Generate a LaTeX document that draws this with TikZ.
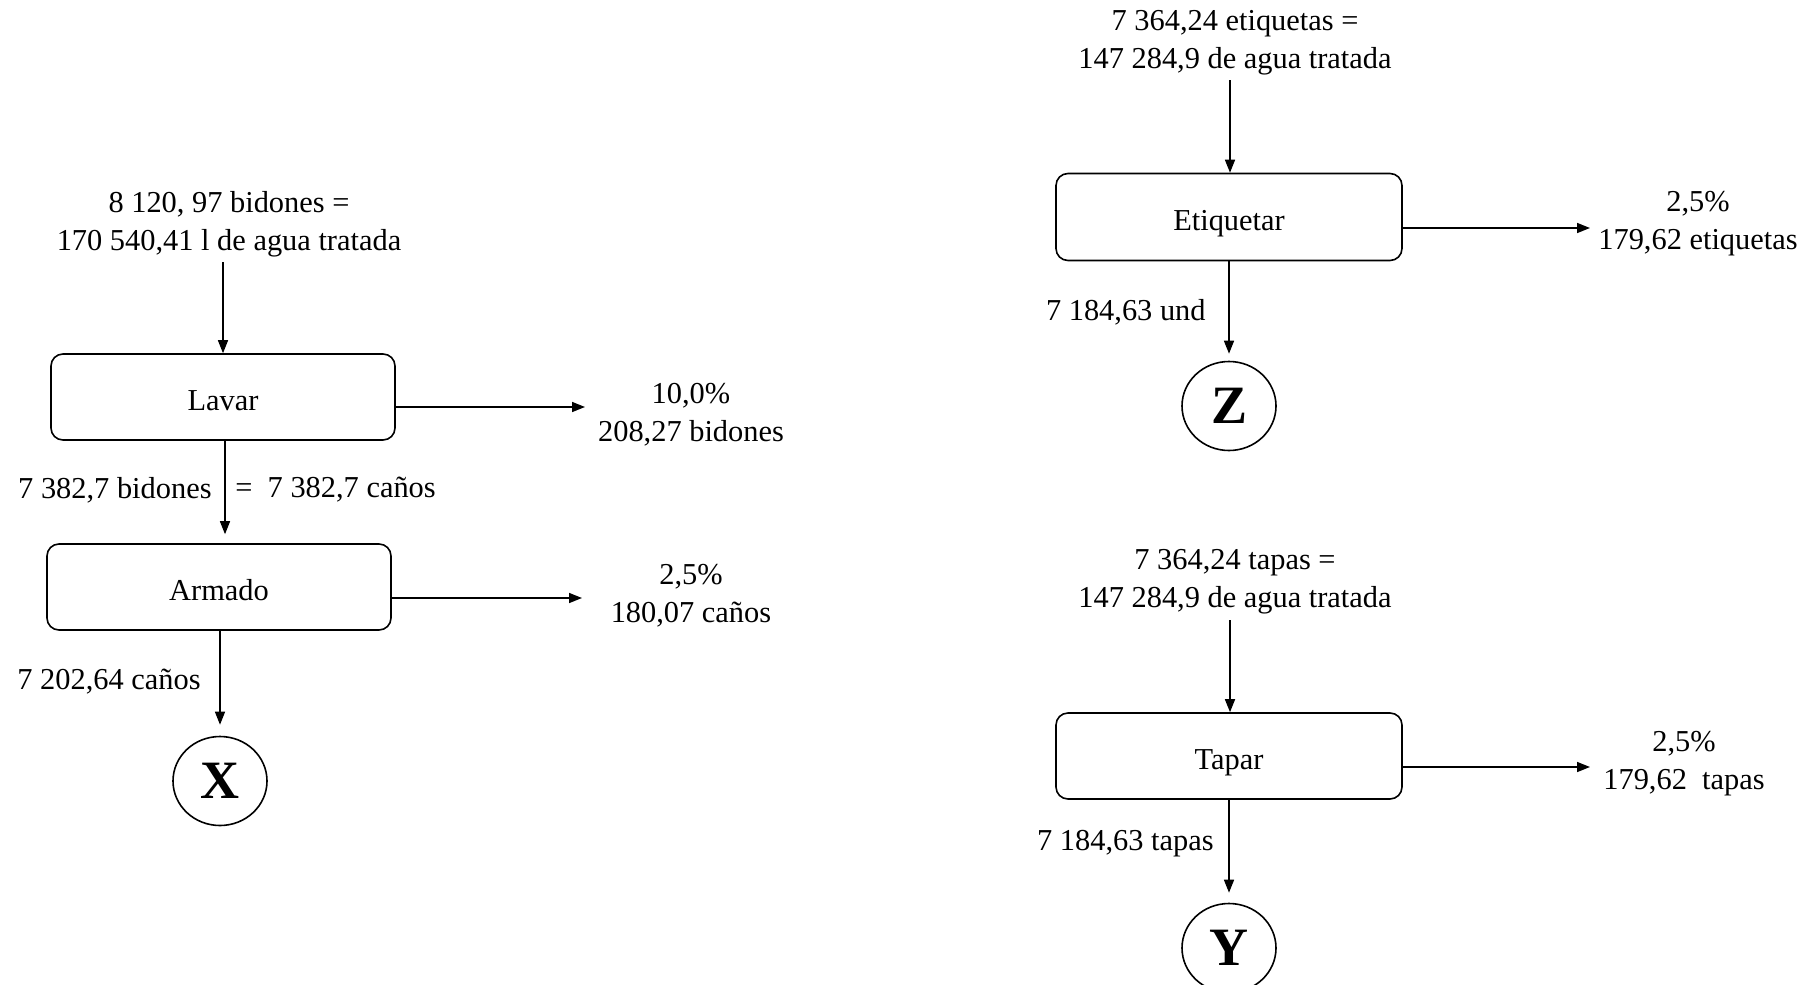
\documentclass[tikz,border=0pt]{standalone}
\usepackage{fontspec}
\setmainfont{Liberation Serif}
\usetikzlibrary{arrows.meta,shapes.geometric,calc}
\begin{document}
\begin{tikzpicture}[x=0.5pt,y=-0.5pt,
  every node/.style={font=\fontsize{15.2pt}{19pt}\selectfont},
  txt/.style={align=center,inner sep=0pt,yshift=-2pt},
  lbl/.style={inner sep=0pt,yshift=-1.5pt},
  procbox/.style={draw,rounded corners=6pt,line width=0.8pt,minimum width=172pt,minimum height=43pt,inner sep=0pt,text height=13pt,text depth=0pt},
  conn/.style={draw,ellipse,line width=0.8pt,minimum width=47pt,minimum height=44.5pt,inner sep=0pt,font=\fontsize{27pt}{30pt}\selectfont\bfseries},
  arr/.style={line width=0.75pt,-{Triangle[length=6.5pt,width=5pt]}}]
\useasboundingbox (0,0) rectangle (1815,985);
\clip (0,0) rectangle (1815,985);

% ---------- left column ----------
\node[txt] (inLavar) at (229,220) {8 120, 97 bidones =\\170 540,41 l de agua tratada};
\node[procbox] (lavar) at (223,397) {Lavar};
\node[txt] (outLavar) at (691,411) {10,0\%\\208,27 bidones};
\node[procbox] (armado) at (219,587) {Armado};
\node[txt] (outArmado) at (691,592) {2,5\%\\180,07 caños};
\node[conn] (X) at (220,781) {X};
\node[lbl,anchor=east] (lb1) at (212,487) {7 382,7 bidones};
\node[lbl,anchor=west] (lb2) at (235,487) {= \ 7 382,7 caños};
\node[lbl,anchor=east] (lb3) at (201,679) {7 202,64 caños};

\coordinate (sLavar) at (223,262);
\coordinate (eLavar) at (585,407);
\coordinate (eArmado) at (582,598);
\draw[arr] (sLavar) -- (sLavar |- lavar.north);
\draw[arr] (lavar.east |- eLavar) -- (eLavar);
\draw[arr,shorten >=4.5pt] ([xshift=1pt]lavar.south) -- ([xshift=1pt]lavar.south |- armado.north);
\draw[arr] (armado.east |- eArmado) -- (eArmado);
\draw[arr,shorten >=5.5pt] (armado.south -| X.north) -- (X.north);

% ---------- right column, top ----------
\node[txt] (inEtiq) at (1235,39) {7 364,24 etiquetas =\\147 284,9 de agua tratada};
\node[procbox,minimum width=173pt,minimum height=43.5pt] (etiq) at (1229,217) {Etiquetar};
\node[txt] (outEtiq) at (1698,220) {2,5\%\\179,62 etiquetas};
\node[conn] (Z) at (1229,406) {Z};
\node[lbl,anchor=east] (lb4) at (1206,309) {7 184,63 und};

\coordinate (sEtiq) at (1230,80);
\coordinate (eEtiq) at (1590,228);
\draw[arr] (sEtiq) -- (sEtiq |- etiq.north);
\draw[arr] (etiq.east |- eEtiq) -- (eEtiq);
\draw[arr,shorten >=3.5pt] (etiq.south -| Z.north) -- (Z.north);

% ---------- right column, bottom ----------
\node[txt] (inTapar) at (1235,578) {7 364,24 tapas =\\147 284,9 de agua tratada};
\node[procbox,minimum width=173pt] (tapar) at (1229,756) {Tapar};
\node[txt] (outTapar) at (1684,760) {2,5\%\\179,62 \ tapas};
\node[conn] (Y) at (1229,948) {Y};
\node[lbl,anchor=east] (lb5) at (1214,841) {7 184,63 tapas};

\coordinate (sTapar) at (1230,620);
\coordinate (eTapar) at (1590,767);
\draw[arr] (sTapar) -- (sTapar |- tapar.north);
\draw[arr] (tapar.east |- eTapar) -- (eTapar);
\draw[arr,shorten >=5pt] (tapar.south -| Y.north) -- (Y.north);
\end{tikzpicture}
\end{document}
